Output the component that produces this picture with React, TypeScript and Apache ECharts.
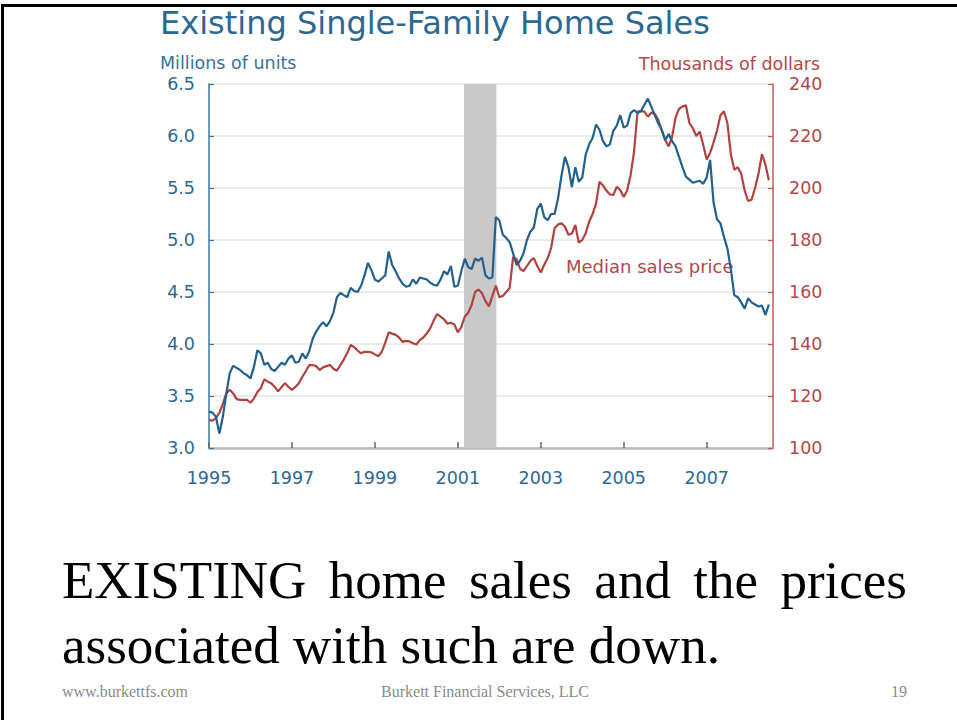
import React, { useEffect, useRef } from "react";
import * as echarts from "echarts";

// ---------- data ----------
const START_YEAR = 1995; // first month: Jan 1995, monthly observations

// Existing single-family home sales, millions of units (SAAR), monthly
const salesMillions = [
  3.35, 3.34, 3.3, 3.14, 3.3, 3.52, 3.72, 3.79, 3.77, 3.75, 3.72, 3.7,
  3.67, 3.78, 3.94, 3.91, 3.8, 3.82, 3.76, 3.74, 3.78, 3.82, 3.8, 3.86,
  3.89, 3.82, 3.83, 3.91, 3.86, 3.93, 4.05, 4.12, 4.17, 4.21, 4.17, 4.22,
  4.3, 4.45, 4.49, 4.47, 4.45, 4.54, 4.51, 4.5, 4.56, 4.66, 4.78, 4.71,
  4.62, 4.6, 4.63, 4.66, 4.89, 4.76, 4.7, 4.63, 4.58, 4.55, 4.56, 4.62,
  4.58, 4.64, 4.63, 4.62, 4.59, 4.57, 4.56, 4.62, 4.7, 4.67, 4.75, 4.55,
  4.56, 4.7, 4.82, 4.74, 4.72, 4.82, 4.8, 4.83, 4.66, 4.63, 4.64, 5.22,
  5.19, 5.05, 5.02, 4.98, 4.87, 4.76, 4.8, 4.87, 5.0, 5.08, 5.12, 5.3,
  5.35, 5.22, 5.19, 5.25, 5.25, 5.4, 5.62, 5.8, 5.7, 5.51, 5.7, 5.56,
  5.6, 5.82, 5.92, 5.98, 6.11, 6.06, 5.95, 5.9, 5.92, 6.05, 6.1, 6.2,
  6.08, 6.1, 6.22, 6.25, 6.22, 6.24, 6.3, 6.36, 6.28, 6.2, 6.12, 6.06,
  5.96, 6.02, 5.95, 5.9, 5.8, 5.7, 5.61, 5.58, 5.55, 5.56, 5.57, 5.54,
  5.6, 5.77, 5.36, 5.2, 5.16, 5.03, 4.92, 4.72, 4.47, 4.45, 4.4, 4.34,
  4.44, 4.4, 4.38, 4.36, 4.37, 4.28, 4.38,
];

// Median sales price, thousands of dollars, monthly
const priceThousands = [
  110.8, 110.5, 111.5, 113.5, 117, 121, 122.4, 121, 118.8, 118.5, 118.5, 118.5,
  117.4, 119, 121.5, 123, 126.4, 125.5, 124.9, 123.5, 121.8, 123.5, 124.9, 123.5,
  122.3, 123.5, 124.9, 127.4, 129.5, 131.9, 131.9, 131.5, 130, 131, 131.5, 131.9,
  130.5, 129.7, 131.9, 134, 136.5, 139.6, 138.8, 137.5, 136.4, 137, 137, 136.8,
  136, 135.3, 137, 140.5, 144.5, 144, 143.5, 142.5, 140.8, 141.2, 141, 140.3,
  139.8, 141.5, 142.5, 144, 146, 149, 151.5, 150.5, 149.5, 147.8, 148.2, 147.5,
  144.5, 146.5, 150.5, 152, 155, 160, 161, 159.5, 156.5, 154.5, 158.5, 162.5,
  158, 158.5, 160, 161.5, 173.5, 172.5, 169, 168, 170, 172, 173, 170,
  167.5, 170.5, 173, 177, 184.5, 186, 186.4, 185.1, 182, 182.5, 185.8, 179,
  180, 182.6, 187, 190, 194.1, 202.4, 201, 199, 197.5, 197.3, 200.5, 199.2,
  196.5, 199, 205, 214, 229.4, 229.6, 229.4, 227.4, 229, 228.5, 226.2, 222.3,
  218.5, 216, 219.7, 227, 230.5, 231.3, 231.8, 225, 223, 220, 221.7, 216.6,
  211, 213.5, 217.5, 222, 228, 229.5, 225, 213, 207, 208, 205.5, 199,
  195, 195.5, 200, 205.5, 213, 209, 203,
];

// Recession shading (Mar 2001 - Nov 2001), in decimal years
const recessionSpan = [2001.15, 2001.93];

// Axis ranges
const xRange = [1995, 2008.6];
const salesAxis = { min: 3, max: 6.5, step: 0.5 };
const priceAxis = { min: 100, max: 240, step: 20 };

// Texts
const titleText = "Existing Single-Family Home Sales";
const leftUnitText = "Millions of units";
const rightUnitText = "Thousands of dollars";
const priceLabelText = "Median sales price";
const bodyLine1Words = ["EXISTING", "home", "sales", "and", "the", "prices"];
const bodyLine2Text = "associated with such are down.";
const footerLeftText = "www.burkettfs.com";
const footerCenterText = "Burkett Financial Services, LLC";
const footerRightText = "19";

// ---------- styling ----------
const BLUE = "#23608d";
const BLUE_TEXT = "#2d6892";
const RED = "#b0423f";
const RED_TEXT = "#b04a48";
const SANS = '"DejaVu Sans"';
const SERIF = '"Liberation Serif"';

function toPairs(arr: number[]) {
  return arr.map((v, i) => [START_YEAR + i / 12, v]);
}

function measure(text: string, font: string) {
  const c = document.createElement("canvas").getContext("2d");
  if (!c) return text.length * 20;
  c.font = font;
  return c.measureText(text).width;
}

function txt(text: string, x: number, y: number, font: string, fill: string, align = "left") {
  return {
    type: "text",
    x,
    y,
    silent: true,
    style: {
      text,
      font,
      fill,
      align,
      textAlign: align,
      verticalAlign: "middle",
      textVerticalAlign: "middle",
    },
  };
}

export default function App() {
  const ref = useRef<HTMLDivElement>(null);

  useEffect(() => {
    if (!ref.current) return;
    const chart = echarts.init(ref.current, undefined, { renderer: "svg" });

    // justified first body line
    const bodyFont = `53px ${SERIF}`;
    const lineLeft = 62;
    const lineRight = 907;
    const widths = bodyLine1Words.map((w) => measure(w, bodyFont));
    const total = widths.reduce((a, b) => a + b, 0);
    const gap = (lineRight - lineLeft - total) / (bodyLine1Words.length - 1);
    let cx = lineLeft;
    const line1Elems = bodyLine1Words.map((w, i) => {
      const el = txt(w, cx, 580, bodyFont, "#000");
      cx += widths[i] + gap;
      return el;
    });

    const option: any = {
      animation: false,
      backgroundColor: "#ffffff",
      grid: { left: 209, right: 184, top: 84, bottom: 272, containLabel: false },
      xAxis: {
        type: "value",
        min: xRange[0],
        max: xRange[1],
        interval: 2,
        axisLine: { show: true, lineStyle: { color: "#b9b9b9", width: 2.5 } },
        axisTick: { show: true, inside: true, length: 6, lineStyle: { color: "#666", width: 1.5 } },
        axisLabel: {
          color: BLUE_TEXT,
          fontSize: 17.5,
          fontFamily: SANS,
          margin: 21,
          showMaxLabel: false,
          formatter: (v: number) => (Number.isInteger(v) ? String(v) : ""),
        },
        splitLine: { show: false },
      },
      yAxis: [
        {
          type: "value",
          position: "left",
          min: salesAxis.min,
          max: salesAxis.max,
          interval: salesAxis.step,
          axisLine: { show: true, lineStyle: { color: "#3b77a4", width: 1.5 } },
          axisTick: { show: true, inside: true, length: 5, lineStyle: { color: "#3b77a4", width: 1.2 } },
          axisLabel: {
            color: BLUE_TEXT,
            fontSize: 17.5,
            fontFamily: SANS,
            margin: 14,
            formatter: (v: number) => v.toFixed(1),
          },
          splitLine: { show: true, lineStyle: { color: "#e4e4e4", width: 1.5 } },
        },
        {
          type: "value",
          position: "right",
          min: priceAxis.min,
          max: priceAxis.max,
          interval: priceAxis.step,
          axisLine: { show: true, lineStyle: { color: "#c25a58", width: 1.5 } },
          axisTick: { show: true, inside: true, length: 5, lineStyle: { color: "#c25a58", width: 1.2 } },
          axisLabel: {
            color: RED_TEXT,
            fontSize: 17.5,
            fontFamily: SANS,
            margin: 16,
          },
          splitLine: { show: false },
        },
      ],
      series: [
        {
          type: "line",
          data: [],
          z: 1,
          silent: true,
          markArea: {
            silent: true,
            itemStyle: { color: "#c9c9c9", opacity: 1 },
            label: { show: false },
            data: [[{ xAxis: recessionSpan[0] }, { xAxis: recessionSpan[1] }]],
          },
        },
        {
          name: "Median sales price",
          type: "line",
          yAxisIndex: 1,
          data: toPairs(priceThousands),
          showSymbol: false,
          symbol: "none",
          lineStyle: { color: RED, width: 2.2 },
          itemStyle: { color: RED },
          z: 3,
        },
        {
          name: "Existing single-family home sales",
          type: "line",
          yAxisIndex: 0,
          data: toPairs(salesMillions),
          showSymbol: false,
          symbol: "none",
          lineStyle: { color: BLUE, width: 2.2 },
          itemStyle: { color: BLUE },
          z: 4,
        },
      ],
      graphic: {
        elements: [
          // slide border
          { type: "rect", silent: true, shape: { x: 1, y: 4, width: 957, height: 3 }, style: { fill: "#000" } },
          { type: "rect", silent: true, shape: { x: 1, y: 4, width: 3, height: 716 }, style: { fill: "#000" } },
          txt(titleText, 160, 23, `32px ${SANS}`, BLUE_TEXT),
          txt(leftUnitText, 160, 62.5, `17.5px ${SANS}`, "#3c709a"),
          txt(rightUnitText, 820, 64, `17.5px ${SANS}`, RED_TEXT, "right"),
          txt(priceLabelText, 566, 266.5, `18px ${SANS}`, RED_TEXT),
          ...line1Elems,
          txt(bodyLine2Text, 62, 645, bodyFont, "#000"),
          txt(footerLeftText, 62, 691, `16px ${SERIF}`, "#8a8a8a"),
          txt(footerCenterText, 485, 691, `16px ${SERIF}`, "#8a8a8a", "center"),
          txt(footerRightText, 907, 691, `16px ${SERIF}`, "#8a8a8a", "right"),
        ],
      },
    };

    chart.setOption(option);
    return () => chart.dispose();
  }, []);

  return (
    <div
      ref={ref}
      style={{ position: "fixed", left: 0, top: 0, width: 957, height: 720, background: "#fff" }}
    />
  );
}
